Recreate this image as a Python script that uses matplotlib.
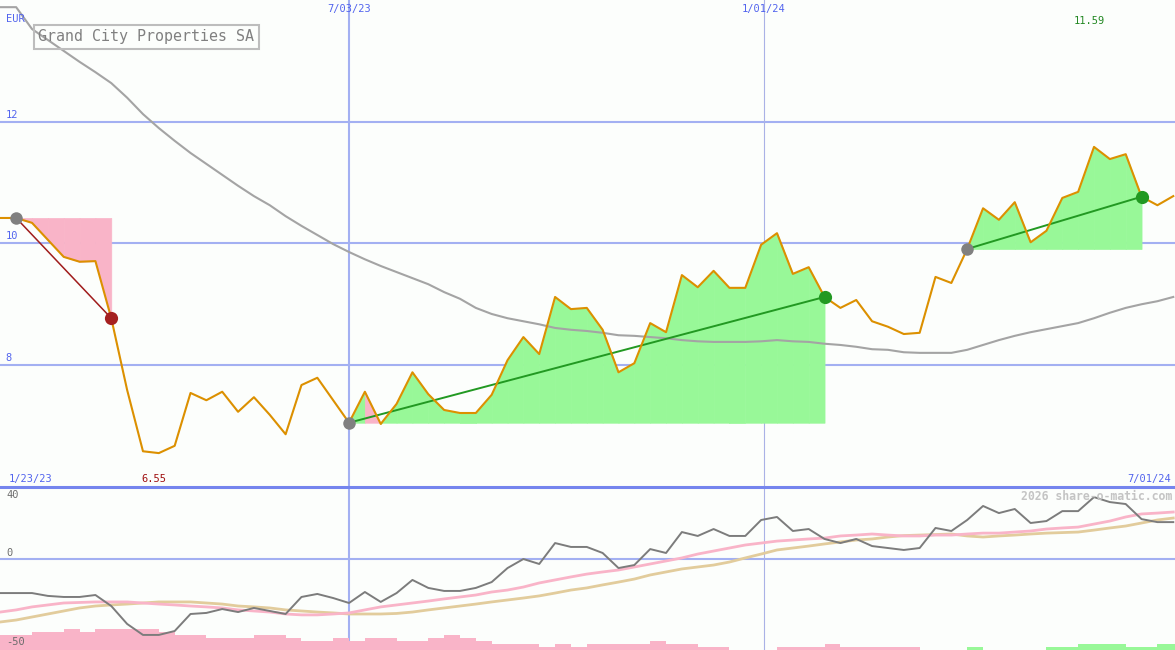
import numpy as np
import matplotlib.pyplot as plt
from matplotlib.transforms import blended_transform_factory

W, H = 1175, 650  # output size in px (dpi 100)

# weekly points, week 0 = 7/03/23
weeks = list(range(-22, 53))

price = [10.42, 10.42, 10.34, 10.06, 9.78, 9.70, 9.71, 8.77, 7.59, 6.58,
         6.55, 6.67, 7.54, 7.42, 7.56, 7.23, 7.47, 7.18, 6.86, 7.67,
         7.79, 7.42, 7.05, 7.56, 7.03, 7.36, 7.88, 7.52, 7.26, 7.21,
         7.21, 7.51, 8.08, 8.46, 8.18, 9.12, 8.92, 8.94, 8.58, 7.88,
         8.03, 8.69, 8.54, 9.48, 9.28, 9.55, 9.27, 9.27, 9.98, 10.17,
         9.50, 9.61, 9.12, 8.94, 9.07, 8.72, 8.63, 8.51, 8.53, 9.45,
         9.35, 9.91, 10.58, 10.39, 10.68, 10.02, 10.21, 10.75, 10.85, 11.59,
         11.39, 11.47, 10.77, 10.63, 10.78]

ma_long = [13.89, 13.89, 13.53, 13.35, 13.17, 12.99, 12.82, 12.64, 12.40, 12.13,
           11.90, 11.69, 11.49, 11.31, 11.13, 10.95, 10.78, 10.63, 10.45, 10.29,
           10.14, 9.99, 9.86, 9.74, 9.63, 9.53, 9.43, 9.33, 9.20, 9.09,
           8.94, 8.84, 8.77, 8.72, 8.67, 8.61, 8.58, 8.56, 8.53, 8.49,
           8.48, 8.46, 8.44, 8.41, 8.39, 8.38, 8.38, 8.38, 8.39, 8.41,
           8.39, 8.38, 8.35, 8.33, 8.30, 8.26, 8.25, 8.21, 8.20, 8.20,
           8.20, 8.25, 8.33, 8.41, 8.48, 8.54, 8.59, 8.64, 8.69, 8.77,
           8.86, 8.94, 9.00, 9.05, 9.12]

# lower panel
momentum = [-19.2, -19.2, -19.2, -20.8, -21.4, -21.4, -20.3, -26.5, -36.6, -42.8,
            -42.8, -40.6, -31.0, -30.4, -28.2, -29.9, -27.6, -29.3, -31.0, -21.4,
            -19.7, -22.0, -24.8, -18.6, -24.2, -19.2, -11.8, -16.3, -18.0, -18.0,
            -16.3, -13.0, -5.1, 0.0, -2.8, 9.0, 6.8, 6.8, 3.4, -5.1,
            -3.4, 5.6, 3.4, 15.2, 13.0, 16.9, 13.0, 13.0, 22.0, 23.7,
            15.8, 16.9, 11.3, 9.0, 11.3, 7.3, 6.2, 5.1, 6.2, 17.5,
            15.8, 22.0, 29.9, 25.9, 28.2, 20.3, 21.4, 27.0, 27.0, 34.9,
            32.1, 31.0, 22.5, 20.8, 20.8]

mom_fast = [-29.9, -28.7, -27.0, -25.9, -24.8, -24.5, -24.2, -24.2, -24.2, -24.8,
            -25.4, -25.9, -26.5, -27.0, -27.6, -28.7, -29.3, -29.9, -31.0, -31.5,
            -31.5, -31.0, -30.4, -28.7, -27.0, -25.9, -24.8, -23.7, -22.5, -21.4,
            -20.3, -18.6, -17.5, -15.8, -13.5, -11.8, -10.1, -8.5, -7.3, -6.2,
            -4.5, -2.8, -1.1, 0.6, 2.8, 4.5, 6.2, 7.9, 9.0, 10.1,
            10.7, 11.3, 11.8, 13.0, 13.5, 14.1, 13.5, 13.0, 13.0, 13.5,
            13.5, 14.1, 14.6, 14.6, 15.2, 15.8, 16.9, 17.5, 18.0, 19.7,
            21.4, 23.7, 25.4, 25.9, 26.5]

mom_slow = [-35.5, -34.4, -32.7, -31.0, -29.3, -27.6, -26.5, -25.9, -25.4, -24.8,
            -24.2, -24.2, -24.2, -24.8, -25.4, -26.5, -27.0, -27.6, -28.7, -29.3,
            -29.9, -30.4, -31.0, -31.0, -31.0, -30.7, -29.9, -28.7, -27.6, -26.5,
            -25.4, -24.2, -23.1, -22.0, -20.8, -19.2, -17.5, -16.3, -14.6, -13.0,
            -11.3, -9.0, -7.3, -5.6, -4.5, -3.4, -1.7, 0.6, 2.8, 5.1,
            6.2, 7.3, 8.5, 9.6, 10.7, 11.3, 12.4, 13.2, 13.5, 13.8,
            14.1, 13.0, 12.4, 13.0, 13.5, 14.1, 14.6, 14.9, 15.2, 16.3,
            17.5, 18.6, 20.3, 22.0, 23.1]

# signed bar levels (negative = pink, positive = green)
bar_level = [-5, -5, -6, -6, -7, -6, -7, -7, -7, -7,
             -6, -5, -5, -4, -4, -4, -5, -5, -4, -3,
             -3, -4, -3, -4, -4, -3, -3, -4, -5, -4,
             -3, -2, -2, -2, -1, -2, -1, -2, -2, -2,
             -2, -3, -2, -2, -1, -1, 0, 0, 0, -1,
             -1, -1, -2, -1, -1, -1, -1, -1, 0, 0,
             0, 1, 0, 0, 0, 0, 1, 1, 2, 2,
             2, 1, 1, 2, 2]

trades = [(-21, -15), (0, 30), (39, 50)]  # (entry week, exit week)

date_marks = {'7/03/23': 0, '1/01/24': 26.18}
first_date, last_date = '1/23/23', '7/01/24'
title = 'Grand City Properties SA'

# colours
BG = '#fcfefc'
GRID = '#a3b0f2'
LBL = '#5264ee'
ORANGE = '#dc9000'
GREEN_F = '#98f898'
PINK_F = '#f9b4c8'

plt.rcParams['font.family'] = 'DejaVu Sans Mono'

fig = plt.figure(figsize=(W / 100, H / 100), dpi=100, facecolor=BG)
split = 487  # px row of panel separator
ax = fig.add_axes([0, (H - split) / H, 1, split / H])
ax2 = fig.add_axes([0, 0, 1, (H - split) / H])

xl = (-22.02, 52.11)
for a in (ax, ax2):
    a.set_facecolor(BG)
    a.set_xlim(*xl)
    a.set_xticks([])
    a.set_yticks([])
    for s in a.spines.values():
        s.set_visible(False)

ax.set_ylim(5.992, 14.008)
ax2.set_ylim(-51.3, 40.6)

# grid
for v in (8, 10, 12):
    ax.axhline(v, color=GRID, lw=1.5, zorder=1)
ax2.axhline(0, color=GRID, lw=1.5, zorder=1)
for a in (ax, ax2):
    a.axvline(date_marks['7/03/23'], color=GRID, lw=1.5, zorder=1)
    a.axvline(date_marks['1/01/24'], color='#aab2e6', lw=0.8, zorder=1)
ax2.spines['top'].set_visible(True)
ax2.spines['top'].set_color('#7585ee')
ax2.spines['top'].set_linewidth(2.2)

# trade shading
p = np.array(price)
for a_w, b_w in trades:
    i0 = a_w + 22
    entry = p[i0]
    for k in range(a_w, b_w):
        i = k + 22
        col = GREEN_F if p[i + 1] >= entry else PINK_F
        ax.fill_between([k, k + 1], [p[i], p[i + 1]], entry, color=col,
                        lw=0.5, ec=col, zorder=2)

ax.plot(weeks, ma_long, color='#a4a4a4', lw=1.5, zorder=3)
ax.plot(weeks, price, color=ORANGE, lw=1.5, zorder=5)

for a_w, b_w in trades:
    pa, pb = p[a_w + 22], p[b_w + 22]
    win = pb > pa
    lc = '#229922' if win else '#a01c1c'
    ax.plot([a_w, b_w], [pa, pb], color=lc, lw=1.4 if win else 1.1, zorder=4)
    ax.plot(a_w, pa, 'o', color='#808080', ms=9, mec='none', zorder=6)
    ax.plot(b_w, pb, 'o', color='#229922' if win else '#a52020', ms=9.5,
            mec='none', zorder=6)

# labels on price panel
ty = blended_transform_factory(ax.transAxes, ax.transData)
for v in (8, 10, 12):
    ax.text(0.005, v + 0.035, str(v), transform=ty, color=LBL, fontsize=7.5,
            va='bottom', ha='left')
fig.text(6 / W, 1 - 19 / H, 'EUR', color=LBL, fontsize=7.5, va='center')

tx = blended_transform_factory(ax.transData, ax.transAxes)
for lab, pos in date_marks.items():
    ax.text(pos, 1 - 9 / split, lab, transform=tx, color=LBL, fontsize=7.5,
            ha='center', va='center')
ax.text(0.007, 1 - 479 / split, first_date, transform=ax.transAxes, color=LBL,
        fontsize=7.5, ha='left', va='center')
ax.text(0.997, 1 - 479 / split, last_date, transform=ax.transAxes, color=LBL,
        fontsize=7.5, ha='right', va='center')

imax, imin = int(np.argmax(p)), int(np.argmin(p))
ax.text(weeks[imax] - 0.3, 1 - 21 / split, f'{p[imax]:.2f}', transform=tx,
        color='#228822', fontsize=7.5, ha='center', va='center')
ax.text(weeks[imin] - 0.3, 1 - 479 / split, f'{p[imin]:.2f}', transform=tx,
        color='#a01010', fontsize=7.5, ha='center', va='center')

fig.text(38 / W, 1 - 37 / H, title, color='#808080', fontsize=10.8,
         ha='left', va='center',
         bbox=dict(boxstyle='square,pad=0.3', fc='none', ec='#bdbdbd', lw=1.5))

# lower panel
bot = -51.3
lvl = np.array(bar_level)
cols = [GREEN_F if v > 0 else PINK_F for v in lvl]
ax2.bar(weeks, np.abs(lvl) * 1.72, width=1, align='edge', bottom=bot,
        color=cols, lw=0, zorder=1)
ax2.plot(weeks, mom_slow, color='#e2cc9c', lw=2.0, zorder=2)
ax2.plot(weeks, mom_fast, color='#f9b4c8', lw=2.0, zorder=2)
ax2.plot(weeks, momentum, color='#7c7c7c', lw=1.4, zorder=3)

for lab, py in (('40', 495), ('0', 553), ('-50', 642)):
    fig.text(6 / W, 1 - py / H, lab, color='#6c6c6c', fontsize=7.5, va='center')
fig.text(1172 / W, 1 - 496 / H, '2026 share-o-matic.com', color='#c4c4c4',
         fontsize=8.3, fontweight='bold', ha='right', va='center')

fig.savefig('out.png', dpi=100, facecolor=BG)
